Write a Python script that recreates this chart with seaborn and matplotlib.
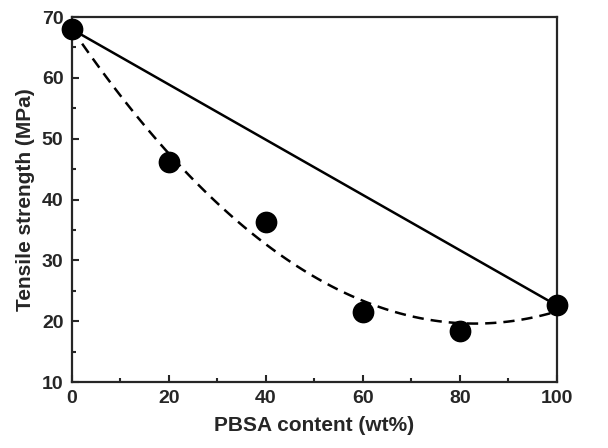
import matplotlib
matplotlib.use('Agg')
import numpy as np
import pandas as pd
import matplotlib.pyplot as plt
import seaborn as sns
from matplotlib.ticker import MultipleLocator

# data
pbsa = [0, 20, 40, 60, 80, 100]
strength = [68.0, 46.2, 36.3, 21.5, 18.4, 22.6]
# rule of mixtures line between the pure components
mix_x = [0, 100]
mix_y = [68.0, 22.6]

df = pd.DataFrame({'PBSA': pbsa, 'TS': strength})

sns.set_style('ticks')
plt.rcParams['font.family'] = ['Liberation Sans', 'DejaVu Sans']
plt.rcParams['font.weight'] = 'bold'

fig = plt.figure(figsize=(6.08, 4.48), dpi=100)
ax = fig.add_axes([0.118, 0.147, 0.798, 0.815])

# dashed quadratic trend
sns.regplot(data=df, x='PBSA', y='TS', order=2, ci=None, scatter=False, ax=ax,
            line_kws={'color': 'black', 'linestyle': (0, (4.5, 2.8)), 'linewidth': 1.8})
# solid line
sns.lineplot(x=mix_x, y=mix_y, color='black', linewidth=1.8, ax=ax)
# points
sns.scatterplot(data=df, x='PBSA', y='TS', color='black', s=210, edgecolor='black',
                zorder=5, clip_on=False, ax=ax)

ax.set_xlim(0, 100)
ax.set_ylim(10, 70)
ax.xaxis.set_major_locator(MultipleLocator(20))
ax.xaxis.set_minor_locator(MultipleLocator(10))
ax.yaxis.set_major_locator(MultipleLocator(10))
ax.yaxis.set_minor_locator(MultipleLocator(5))
ax.tick_params(which='both', direction='in', top=False, right=False, width=1.5)
ax.tick_params(which='major', length=5, labelsize=14, pad=6)
ax.tick_params(which='minor', length=3)
for sp in ax.spines.values():
    sp.set_linewidth(1.6)
    sp.set_visible(True)

ax.set_xlabel('PBSA content (wt%)', fontsize=15, fontweight='bold', labelpad=6)
ax.set_ylabel('Tensile strength (MPa)', fontsize=15, fontweight='bold', labelpad=5)

fig.savefig('out.png', dpi=100)
